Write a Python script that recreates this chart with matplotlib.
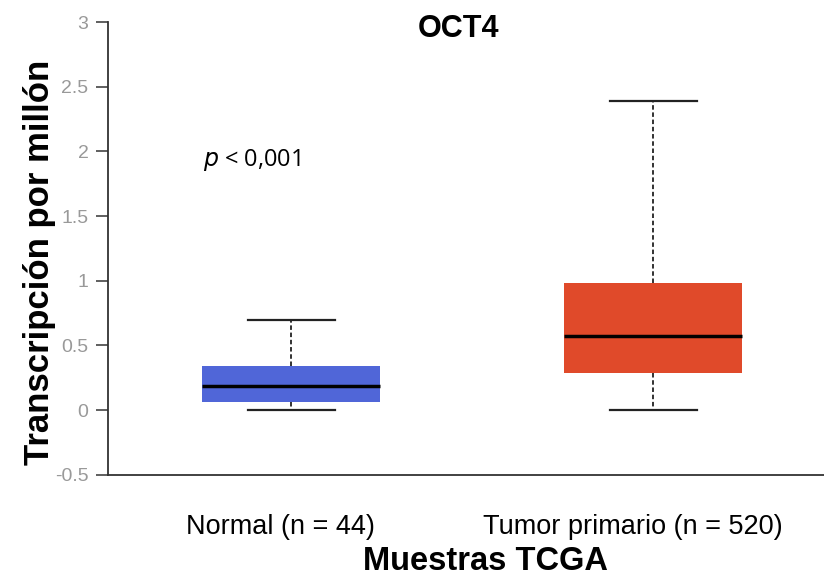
import matplotlib.pyplot as plt
from matplotlib.transforms import ScaledTranslation

plt.rcParams['font.family'] = ['Liberation Sans', 'DejaVu Sans']

# Resumen de expresión de OCT4 (TPM) por grupo
groups = ["Normal (n = 44)", "Tumor primario (n = 520)"]
whisker_low = [0.0, 0.0]
q1 = [0.065, 0.29]
medians = [0.19, 0.57]
q3 = [0.34, 0.98]
whisker_high = [0.70, 2.39]
box_colors = ["#5066D8", "#E04A2A"]

stats = []
for i, name in enumerate(groups):
    stats.append({
        "label": name,
        "whislo": whisker_low[i],
        "q1": q1[i],
        "med": medians[i],
        "q3": q3[i],
        "whishi": whisker_high[i],
        "fliers": [],
    })

fig = plt.figure(figsize=(8.24, 5.79), dpi=100)
ax = fig.add_axes([0.131, 0.18, 0.869, 0.782])

bp = ax.bxp(stats, positions=[1, 2], widths=0.49, patch_artist=True,
            showfliers=False,
            medianprops=dict(color="black", linewidth=2.5),
            whiskerprops=dict(color="#222222", linestyle=(0, (2.5, 1.5)), linewidth=1.3),
            capprops=dict(color="#222222", linewidth=1.6),
            boxprops=dict(linewidth=0))
for patch, c in zip(bp["boxes"], box_colors):
    patch.set_facecolor(c)
    patch.set_edgecolor(c)
for cap in bp["caps"]:
    x0, x1 = cap.get_xdata()
    mid = (x0 + x1) / 2
    cap.set_xdata([mid - 0.12, mid + 0.12])

ax.set_xlim(0.494, 2.472)
ax.set_ylim(-0.5, 3)
ax.set_yticks([-0.5, 0, 0.5, 1, 1.5, 2, 2.5, 3])
ax.set_yticklabels(["-0.5", "0", "0.5", "1", "1.5", "2", "2.5", "3"])
ax.tick_params(axis="y", length=9, width=1.2, color="#444444",
               labelcolor="#999999", labelsize=14, pad=5)
ax.tick_params(axis="x", length=0, labelsize=19.5, pad=28)
ax.set_xticks([1, 2])
ax.set_xticklabels(groups)

# desplazar ligeramente las etiquetas del eje x hacia la izquierda
for lab, dx in zip(ax.get_xticklabels(), [-11, -20]):
    lab.set_transform(lab.get_transform() + ScaledTranslation(dx / 100, 0, fig.dpi_scale_trans))

for side in ["top", "right"]:
    ax.spines[side].set_visible(False)
for side in ["left", "bottom"]:
    ax.spines[side].set_color("#333333")
    ax.spines[side].set_linewidth(1.3)

ax.text(0.756, 1.93, r"$p$ < 0,001", fontsize=17, ha="left", va="center",
        family=["Open Sans", "DejaVu Sans"])

fig.text(0.556, 0.936, "OCT4", fontsize=22, fontweight="bold",
         ha="center", va="baseline")
fig.text(0.048, 0.547, "Transcripción por millón", fontsize=25,
         fontweight="bold", rotation=90, ha="center", va="center")
fig.text(0.589, 0.0155, "Muestras TCGA", fontsize=23.5, fontweight="bold",
         ha="center", va="baseline")

fig.savefig("out.png", dpi=100)
